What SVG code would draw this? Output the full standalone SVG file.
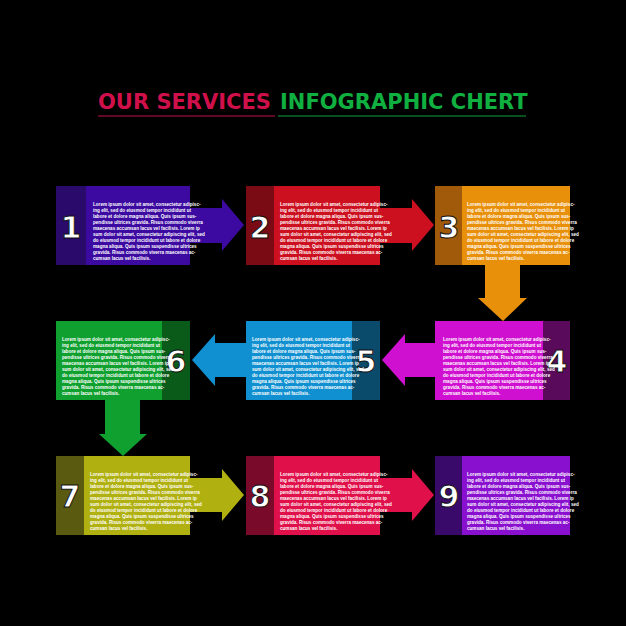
<svg xmlns="http://www.w3.org/2000/svg" width="626" height="626" viewBox="0 0 626 626">
<defs><style>
.t{font-family:"Liberation Sans",Arial,sans-serif;font-size:4.6px;font-weight:bold;fill:#fff}
.n{font-family:"DejaVu Sans",sans-serif;font-size:30px;font-weight:bold;fill:#fff;text-anchor:middle;stroke:#111;stroke-width:1}
.h{font-family:"DejaVu Sans",sans-serif;font-size:21px;font-weight:bold}
</style>
<g id="txt"><text class="t">
<tspan x="0" dy="0">Lorem ipsum dolor sit amet, consectetur adipisc-</tspan>
<tspan x="0" dy="6">ing elit, sed do eiusmod tempor incididunt ut</tspan>
<tspan x="0" dy="6">labore et dolore magna aliqua. Quis ipsum sus-</tspan>
<tspan x="0" dy="6">pendisse ultrices gravida. Risus commodo viverra</tspan>
<tspan x="0" dy="6">maecenas accumsan lacus vel facilisis. Lorem ip</tspan>
<tspan x="0" dy="6">sum dolor sit amet, consectetur adipiscing elit, sed</tspan>
<tspan x="0" dy="6">do eiusmod tempor incididunt ut labore et dolore</tspan>
<tspan x="0" dy="6">magna aliqua. Quis ipsum suspendisse ultrices</tspan>
<tspan x="0" dy="6">gravida. Risus commodo viverra maecenas ac-</tspan>
<tspan x="0" dy="6">cumsan lacus vel facilisis.</tspan></text></g>
</defs>
<rect width="626" height="626" fill="#000"/>
<g id="title">
<text x="98" y="109" class="h" fill="#d0104a">OUR SERVICES</text>
<text x="280" y="109" class="h" fill="#10b040">INFOGRAPHIC CHERT</text>
<line x1="98" y1="116" x2="275" y2="116" stroke="#c0104a" stroke-width="1"/>
<line x1="278" y1="116" x2="526" y2="116" stroke="#10a040" stroke-width="1"/>
</g>
<g id="connectors">
<polygon points="190,208 222,208 222,199 244,225 222,251 222,243 190,243" fill="#3c0aa0"/>
<polygon points="380,208 412,208 412,199 434,225 412,251 412,243 380,243" fill="#cc1020"/>
<polygon points="485,265 520,265 520,298 527,298 503,321 478,298 485,298" fill="#e8900a"/>
<polygon points="435,343 405,343 405,334 382,360 405,386 405,377 435,377" fill="#d010d0"/>
<polygon points="246,343 215,343 215,334 192,360 215,386 215,377 246,377" fill="#1090d0"/>
<polygon points="105,400 140,400 140,434 147,434 123,456 99,434 105,434" fill="#10a030"/>
<polygon points="190,478 222,478 222,469 244,495 222,521 222,512 190,512" fill="#b0b010"/>
<polygon points="380,478 412,478 412,469 434,495 412,521 412,512 380,512" fill="#e0104a"/>
</g>
<g id="node1"><rect x="56" y="186" width="134" height="79" fill="#3c0aa0"/><rect x="56" y="186" width="30" height="79" fill="#2a0a6a"/><text x="71" y="238" class="n">1</text><use href="#txt" x="93" y="206"/></g>
<g id="node2"><rect x="246" y="186" width="134" height="79" fill="#cc1020"/><rect x="246" y="186" width="28" height="79" fill="#7a0a14"/><text x="260" y="238" class="n">2</text><use href="#txt" x="280" y="206"/></g>
<g id="node3"><rect x="435" y="186" width="135" height="79" fill="#e8900a"/><rect x="435" y="186" width="27" height="79" fill="#a05a0a"/><text x="449" y="238" class="n">3</text><use href="#txt" x="467" y="206"/></g>
<g id="node4"><rect x="435" y="321" width="135" height="79" fill="#d010d0"/><rect x="543" y="321" width="27" height="79" fill="#5a0a5a"/><text x="557" y="372" class="n">4</text><use href="#txt" x="443" y="341"/></g>
<g id="node5"><rect x="246" y="321" width="134" height="79" fill="#1090d0"/><rect x="352" y="321" width="28" height="79" fill="#0a4a6a"/><text x="366" y="372" class="n">5</text><use href="#txt" x="252" y="341"/></g>
<g id="node6"><rect x="56" y="321" width="134" height="79" fill="#10a030"/><rect x="162" y="321" width="28" height="79" fill="#0a5a1a"/><text x="176" y="372" class="n">6</text><use href="#txt" x="62" y="341"/></g>
<g id="node7"><rect x="56" y="456" width="134" height="79" fill="#b0b010"/><rect x="56" y="456" width="28" height="79" fill="#5a5a10"/><text x="70" y="507" class="n">7</text><use href="#txt" x="90" y="476"/></g>
<g id="node8"><rect x="246" y="456" width="134" height="79" fill="#e0104a"/><rect x="246" y="456" width="28" height="79" fill="#7a0a2a"/><text x="260" y="507" class="n">8</text><use href="#txt" x="280" y="476"/></g>
<g id="node9"><rect x="435" y="456" width="135" height="79" fill="#8a10d0"/><rect x="435" y="456" width="27" height="79" fill="#3a0a6a"/><text x="449" y="507" class="n">9</text><use href="#txt" x="467" y="476"/></g>
</svg>
